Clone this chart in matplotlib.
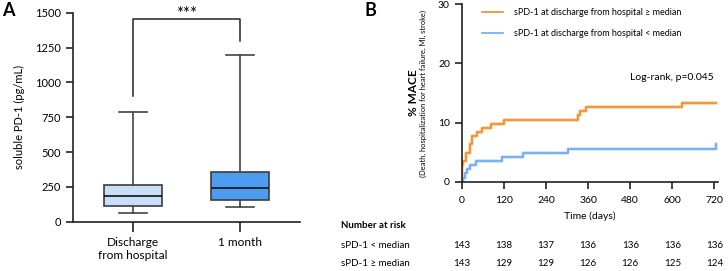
import numpy as np
import matplotlib
matplotlib.use("Agg")
import matplotlib.pyplot as plt
import matplotlib.transforms as mtransforms

plt.rcParams['font.family'] = ['Lato', 'DejaVu Sans']

# panel A: box summaries (pg/mL)
groups = ["Discharge\nfrom hospital", "1 month"]
whislo = [62, 103]
q1 = [115, 156]
med = [182, 240]
q3 = [260, 359]
whishi = [787, 1195]
box_colors = ["#c9dff8", "#4c9cf0"]
bracket_low = [900, 1300]
bracket_top = 1455

# panel B: cumulative MACE (%)
orange_days = [0, 1, 2, 3, 13, 23, 30, 44, 57, 83, 121, 332, 338, 355, 628, 723]
orange_pct = [0, 1.4, 2.8, 3.5, 4.9, 6.3, 7.7, 8.4, 9.1, 9.8, 10.5, 11.2, 11.9, 12.6, 13.3, 13.3]
blue_days = [0, 4, 9, 15, 23, 42, 114, 175, 303, 723]
blue_pct = [0, 0.7, 1.4, 2.1, 2.8, 3.5, 4.2, 4.9, 5.6, 6.3]
risk_days = [0, 120, 240, 360, 480, 600, 720]
risk_low = [143, 138, 137, 136, 136, 136, 136]
risk_high = [143, 129, 129, 126, 126, 125, 124]

W, H = 728, 271
fig = plt.figure(figsize=(W / 100, H / 100), dpi=100)


def ax_rect(l, t, r, b):
    return [l / W, 1 - b / H, (r - l) / W, (b - t) / H]


# ---------- panel A ----------
axA = fig.add_axes(ax_rect(73, 12.7, 300, 221.7))
stats = []
for i in range(2):
    stats.append(dict(whislo=whislo[i], q1=q1[i], med=med[i], q3=q3[i], whishi=whishi[i], label=groups[i]))
bp = axA.bxp(stats, positions=[1, 2], widths=0.54, showfliers=False, patch_artist=True,
             capwidths=0.27,
             boxprops=dict(edgecolor="#3c3c3c", linewidth=1.2),
             medianprops=dict(color="#111111", linewidth=1.2),
             whiskerprops=dict(color="#444444", linewidth=1.2),
             capprops=dict(color="#444444", linewidth=1.2))
for patch, c in zip(bp['boxes'], box_colors):
    patch.set_facecolor(c)

axA.set_xlim(0.44, 2.56)
axA.set_ylim(0, 1500)
axA.set_yticks([0, 250, 500, 750, 1000, 1250, 1500])
axA.spines['top'].set_visible(False)
axA.spines['right'].set_visible(False)
for s in ['left', 'bottom']:
    axA.spines[s].set_linewidth(1.2)
    axA.spines[s].set_color("#222222")
axA.tick_params(axis='both', direction='out', length=5, width=1.2, color="#222222", labelsize=8)
axA.tick_params(axis='x', length=7, pad=4, labelsize=8.6)
for lab in axA.get_xticklabels():
    lab.set_linespacing(1.25)
axA.set_ylabel("soluble PD-1 (pg/mL)", fontsize=8)
axA.yaxis.set_label_coords(-0.211, 0.5)

# significance bracket
axA.plot([1, 1, 2, 2], [bracket_low[0], bracket_top, bracket_top, bracket_low[1]],
         color="#222222", lw=1.1, clip_on=False)
axA.text(1.5, bracket_top - 20, "***", ha='center', va='bottom', fontsize=12, clip_on=False)

fig.text(2 / W, 1 - 2 / H, "A", fontsize=13, fontweight='bold', ha='left', va='top')

# ---------- panel B ----------
axB = fig.add_axes(ax_rect(461.7, 4.3, 718, 181.7))
axB.step(orange_days, orange_pct, where='post', color="#f7c08a", lw=2.6, alpha=0.7)
axB.step(blue_days, blue_pct, where='post', color="#b3d5fa", lw=2.6, alpha=0.7)
l1, = axB.step(orange_days, orange_pct, where='post', color="#f28a26", lw=1.2,
               label="sPD-1 at discharge from hospital \u2265 median")
l2, = axB.step(blue_days, blue_pct, where='post', color="#6aaaf2", lw=1.2,
               label="sPD-1 at discharge from hospital < median")
axB.set_xlim(0, 730)
axB.set_ylim(0, 30)
axB.set_xticks(risk_days)
axB.set_yticks([0, 10, 20, 30])
axB.spines['top'].set_visible(False)
axB.spines['right'].set_visible(False)
for s in ['left', 'bottom']:
    axB.spines[s].set_linewidth(1.2)
    axB.spines[s].set_color("#222222")
axB.tick_params(axis='both', direction='out', length=5, width=1.2, color="#222222", labelsize=7.5)
axB.tick_params(axis='x', pad=5)
axB.set_xlabel("Time (days)", fontsize=7.5, labelpad=5)
axB.text(-0.19, 0.5, "% MACE", transform=axB.transAxes, rotation=90, ha='center', va='center',
         fontsize=8.5, fontweight='bold')
axB.text(-0.151, 0.5, "(Death, hospitalization for heart failure, MI, stroke)", transform=axB.transAxes,
         rotation=90, ha='center', va='center', fontsize=5.4)
axB.text(0.82, 0.59, "Log-rank, p=0.045", transform=axB.transAxes, ha='center', va='center', fontsize=7.5)
axB.legend(handles=[l1, l2], loc='upper left', bbox_to_anchor=(0.079, 0.978), frameon=False,
           fontsize=6.5, handlelength=2.3, handletextpad=1.2, labelspacing=1.3,
           borderaxespad=0, borderpad=0)

fig.text(365 / W, 1 - 2 / H, "B", fontsize=13, fontweight='bold', ha='left', va='top')

# number at risk table
trans = mtransforms.blended_transform_factory(axB.transData, fig.transFigure)
fig.text(341 / W, 1 - 225 / H, "Number at risk", fontsize=7, fontweight='bold', ha='left', va='center')
fig.text(341 / W, 1 - 245 / H, "sPD-1 < median", fontsize=7, ha='left', va='center')
fig.text(341 / W, 1 - 264 / H, "sPD-1 \u2265 median", fontsize=7, ha='left', va='center')
for d, a, b in zip(risk_days, risk_low, risk_high):
    axB.text(d, 1 - 245 / H, str(a), transform=trans, ha='center', va='center', fontsize=7, clip_on=False)
    axB.text(d, 1 - 264 / H, str(b), transform=trans, ha='center', va='center', fontsize=7, clip_on=False)

fig.savefig("out.png", dpi=100)
